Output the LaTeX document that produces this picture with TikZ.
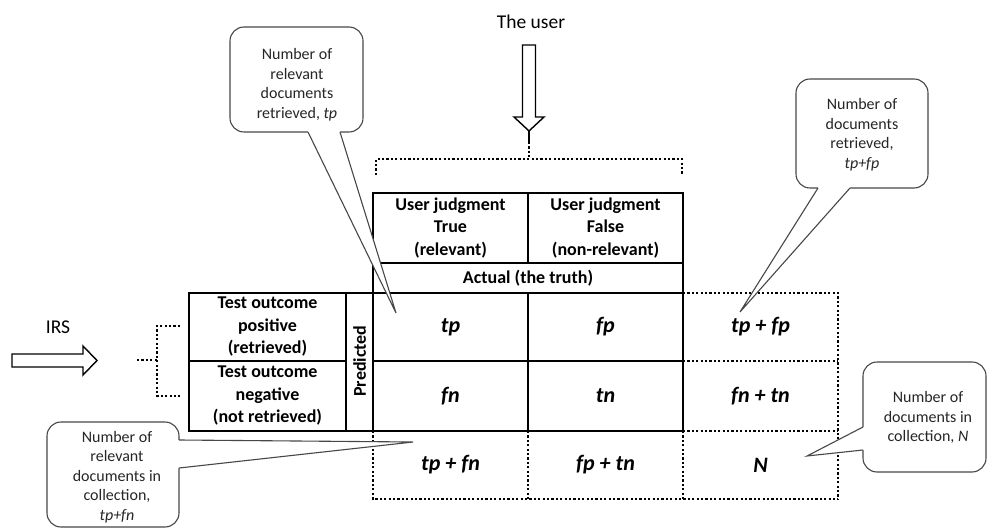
\documentclass[tikz,border=0pt]{standalone}
\usepackage{fontspec}
\setmainfont{Carlito}
\begin{document}
\begin{tikzpicture}[x=1pt,y=-1pt,
  gridline/.style={line width=2.8pt, line join=miter},
  dotline/.style={line width=2.4pt, dash pattern=on 2.2pt off 2.2pt},
  blockarrow/.style={draw=black, fill=white, line width=1.4pt, line join=miter},
  callbox/.style={draw=black!72, fill=white, line width=1.1pt, rounded corners=14pt},
  wedgeline/.style={draw=black!72, line width=1.1pt, line join=miter},
  calltext/.style={align=center, font=\fontsize{16}{19.5}\selectfont, text=black!85, inner sep=0pt},
  head/.style={align=center, font=\fontsize{18}{22.5}\selectfont\bfseries, inner sep=0pt},
  val/.style={font=\fontsize{22}{26}\selectfont\bfseries\itshape, inner sep=0pt},
  plain/.style={font=\fontsize{19.5}{23}\selectfont, inner sep=0pt}]
\useasboundingbox (0,0) rectangle (990,529);

% ---- solid grid of the confusion matrix ----
\draw[gridline] (373,193) rectangle (683,293);
\draw[gridline] (528,193) -- (528,263);
\draw[gridline] (373,263) -- (683,263);
\draw[gridline] (373,293) rectangle (683,431);
\draw[gridline] (528,293) -- (528,431);
\draw[gridline] (373,361) -- (683,361);
\draw[gridline] (189,293) rectangle (373,431);
\draw[gridline] (346,293) -- (346,431);
\draw[gridline] (189,361) -- (346,361);

% ---- dotted totals column and row ----
\draw[dotline] (683,293) -- (838,293) -- (838,499);
\draw[dotline] (683,361) -- (838,361);
\draw[dotline] (683,431) -- (838,431);
\draw[dotline] (373,431) -- (373,499) -- (838,499);
\draw[dotline] (528,431) -- (528,499);
\draw[dotline] (683,431) -- (683,499);

% ---- dotted braces ----
\draw[dotline] (376,175) -- (376,159) -- (682,159) -- (682,175);
\draw[dotline] (529,142) -- (529,159);
\draw[dotline] (180,326) -- (157,326) -- (157,396) -- (180,396);
\draw[dotline] (137,360) -- (157,360);

% ---- block arrows ----
\coordinate (usertip) at (529,131);
\coordinate (irstip) at (97,360.5);
\draw[blockarrow] (522.5,45) -- (535.5,45) -- (535.5,117) -- (544,117) -- (usertip)
  -- (514,117) -- (522.5,117) -- cycle;
\draw[line width=2.2pt] (usertip) -- (529,142);
\draw[blockarrow] (12,354) -- (83,354) -- (83,346) -- (irstip) -- (83,375)
  -- (83,367) -- (12,367) -- cycle;

% ---- callouts: rounded box, then a wedge that opens its border ----
\coordinate (tip1) at (396,313);
\coordinate (tip2) at (740,312);
\coordinate (tip3) at (807,456);
\coordinate (tip4) at (413,442);

\draw[callbox] (230,27) rectangle (363,132);
\fill[white] (308,130) -- (308,132) -- (tip1) -- (340,132) -- (340,130) -- cycle;
\draw[wedgeline] (308,132) -- (tip1) -- (340,132);

\draw[callbox] (796,79) rectangle (928,188);
\fill[white] (818,186) -- (818,188) -- (tip2) -- (850,188) -- (850,186) -- cycle;
\draw[wedgeline] (818,188) -- (tip2) -- (850,188);

\draw[callbox] (863,362) rectangle (986,472);
\fill[white] (865,427) -- (863,427) -- (tip3) -- (863,450) -- (865,450) -- cycle;
\draw[wedgeline] (863,427) -- (tip3) -- (863,450);

\draw[callbox] (47,422) rectangle (179,527);
\fill[white] (177,440) -- (179,440) -- (tip4) -- (179,468) -- (177,468) -- cycle;
\draw[wedgeline] (179,440) -- (tip4) -- (179,468);

\node[calltext] (c1) at (297,84.5) {Number of\\relevant\\documents\\retrieved, \textit{tp}};
\node[calltext] (c2) at (862,134.5) {Number of\\documents\\retrieved,\\\textit{tp+fp}};
\node[calltext] (c3) at (928,417.5) {Number of\\documents in\\collection, \textit{N}};
\node[calltext] (c4) at (117,477) {Number of\\relevant\\documents in\\collection,\\\textit{tp+fn}};

% ---- labels ----
\node[plain] (user) at (531,22) {The user};
\node[plain] (irs) at (58,327) {IRS};

\node[head] (hT) at (450.5,228) {User judgment\\True\\(relevant)};
\node[head] (hF) at (605.5,228) {User judgment\\False\\(non-relevant)};
\node[head] (actual) at (528,278) {Actual (the truth)};
\node[head] (pos) at (267.5,327) {Test outcome\\positive\\(retrieved)};
\node[head] (neg) at (267.5,396) {Test outcome\\negative\\(not retrieved)};
\node[head, rotate=90] (pred) at (359.5,361) {Predicted};

\node[val] (tp) at (450.5,327) {tp};
\node[val] (fp) at (605.5,327) {fp};
\node[val] (tpfp) at (760.5,327) {tp + fp};
\node[val] (fn) at (450.5,396) {fn};
\node[val] (tn) at (605.5,396) {tn};
\node[val] (fntn) at (760.5,396) {fn + tn};
\node[val] (tpfn) at (450.5,465) {tp + fn};
\node[val] (fptn) at (605.5,465) {fp + tn};
\node[val] (N) at (760.5,465) {N};
\end{tikzpicture}
\end{document}
